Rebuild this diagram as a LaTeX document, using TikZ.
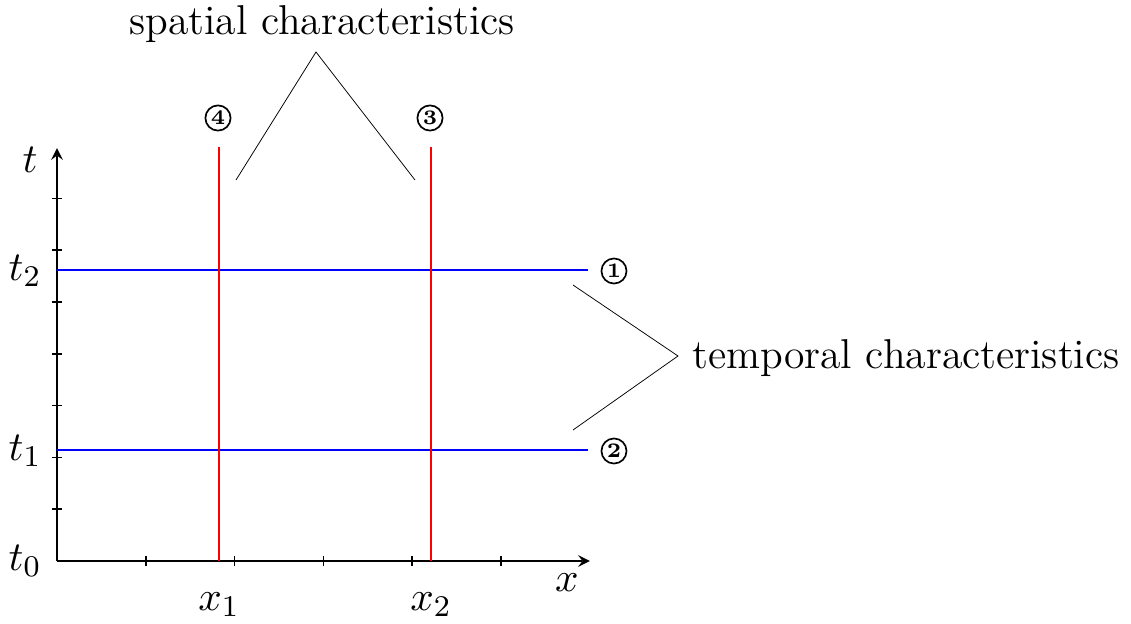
\documentclass[tikz,border=0pt]{standalone}
\usepackage{amsmath, amssymb}
\usepackage{tikz}
\usetikzlibrary{calc}

\begin{document}
\begin{tikzpicture}[scale=0.935,
  every node/.style={font=\fontsize{11.1}{13}\selectfont},
  tline/.style={blue, line width=0.75pt},
  sline/.style={red, line width=0.75pt},
  num/.style={circle, draw, line width=0.45pt, inner sep=0.5pt, font=\fontsize{5.5}{5.5}\selectfont\bfseries}]
\useasboundingbox (-0.57,-0.62) rectangle (10.74,5.61);
% axes
\coordinate (O) at (0,0);
\coordinate (X) at (5.33,0);
\coordinate (Y) at (0,4.13);
\draw[-stealth] (O) -- (X);
\draw[-stealth] (O) -- (Y);
\foreach \i in {1,...,5} \draw (0.888*\i,-0.05) -- (0.888*\i,0.05);
\foreach \i in {1,...,7} \draw (-0.05,0.518*\i) -- (0.05,0.518*\i);
\node at (5.10,-0.22) {$x$};
\node at (-0.27,4.01) {$t$};
\node (t0) at (-0.32,0) {$t_0$};
\node (t1) at (-0.32,1.1) {$t_1$};
\node (t2) at (-0.32,2.9) {$t_2$};
\node (x1) at (1.62,-0.44) {$x_1$};
\node (x2) at (3.74,-0.44) {$x_2$};
% temporal characteristics
\coordinate (a2) at (0,2.91);
\coordinate (b2) at (5.31,2.91);
\coordinate (a1) at (0,1.11);
\coordinate (b1) at (5.31,1.11);
\draw[tline] (a2) -- (b2);
\draw[tline] (a1) -- (b1);
\node[num] (n1) at (5.57,2.9) {1};
\node[num] (n2) at (5.57,1.1) {2};
% spatial characteristics
\coordinate (c1) at (1.62,0);
\coordinate (d1) at (1.62,4.14);
\coordinate (c2) at (3.74,0);
\coordinate (d2) at (3.74,4.14);
\draw[sline] (c1) -- (d1);
\draw[sline] (c2) -- (d2);
\node[num] (n4) at (1.61,4.43) {4};
\node[num] (n3) at (3.73,4.43) {3};
% braces
\node (spat) at (2.65,5.37) {spatial characteristics};
\coordinate (sp) at (2.59,5.09);
\coordinate (sl) at (1.79,3.81);
\coordinate (sr) at (3.58,3.81);
\draw[very thin] (sl) -- (sp) -- (sr);
\node[anchor=west] (temp) at (6.22,2.03) {temporal characteristics};
\coordinate (tp) at (6.21,2.05);
\coordinate (tu) at (5.16,2.76);
\coordinate (tl) at (5.16,1.31);
\draw[very thin] (tu) -- (tp) -- (tl);
\end{tikzpicture}
\end{document}
